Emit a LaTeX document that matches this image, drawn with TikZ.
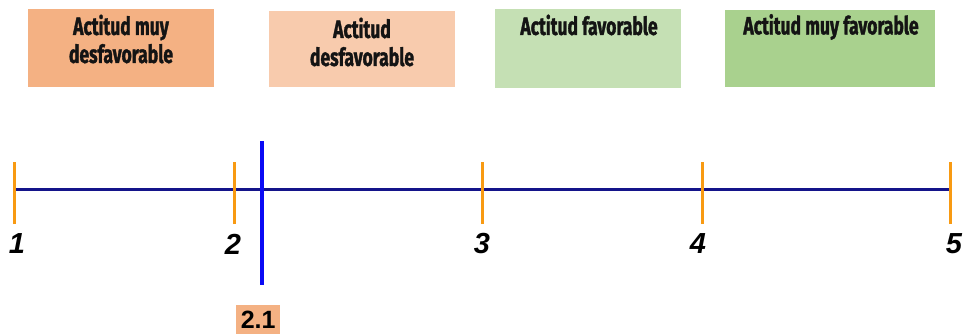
\documentclass[tikz,border=0pt]{standalone}
\usepackage{fontspec}
\setmainfont{Liberation Sans}
\newfontfamily\condfont[FakeStretch=0.70,FakeBold=1.3]{Fira Sans Bold}
\definecolor{boxA}{HTML}{F4B183}
\definecolor{boxB}{HTML}{F8CBAD}
\definecolor{boxC}{HTML}{C5E0B4}
\definecolor{boxD}{HTML}{A9D18E}
\definecolor{axisblue}{HTML}{14148A}
\definecolor{tickor}{HTML}{F89A12}
\definecolor{markblue}{HTML}{0A0AF5}
\begin{document}
\begin{tikzpicture}[x=1pt,y=-1pt,
  catbox/.style={draw=none,inner sep=0pt,anchor=north west},
  cattext/.style={font=\condfont\fontsize{25}{28}\selectfont,align=center,inner sep=0pt,text=black!92},
  tickline/.style={draw=tickor,line width=3pt},
  numlab/.style={font=\bfseries\itshape\fontsize{29}{29}\selectfont,inner sep=0pt},
]
\useasboundingbox (0,0) rectangle (965,333);
% category boxes
\node[catbox,fill=boxA,minimum width=186pt,minimum height=78pt] (b1) at (28,9) {};
\node[catbox,fill=boxB,minimum width=186pt,minimum height=76pt] (b2) at (269,11) {};
\node[catbox,fill=boxC,minimum width=186pt,minimum height=79pt] (b3) at (495,9) {};
\node[catbox,fill=boxD,minimum width=210pt,minimum height=77pt] (b4) at (725,10) {};
\node[cattext] (t1) at (121,39) {Actitud muy\\desfavorable};
\node[cattext] (t2) at (362,42) {Actitud\\desfavorable};
\node[cattext] (t3) at (589,25) {Actitud favorable};
\node[cattext] (t4) at (831,27) {Actitud muy favorable};
% axis
\coordinate (a1) at (14,189);
\coordinate (a2) at (234,189);
\coordinate (a3) at (482,189);
\coordinate (a4) at (702,189);
\coordinate (a5) at (950,189);
\draw[axisblue,line width=3pt] (a1) -- (a5);
\foreach \i in {1,...,5}{
  \draw[tickline] ([yshift=-35pt]a\i) -- ([yshift=27pt]a\i);
}
% marker
\coordinate (m1) at (262,141);
\coordinate (m2) at (262,285);
\draw[markblue,line width=3.6pt] (m1) -- (m2);
% labels
\node[numlab] (n1) at (17,244) {1};
\node[numlab] (n2) at (233,244) {2};
\node[numlab] (n3) at (482,244) {3};
\node[numlab] (n4) at (698,244) {4};
\node[numlab] (n5) at (954,244) {5};
\node[fill=boxA,font=\bfseries\fontsize{25}{25}\selectfont,inner sep=0pt,minimum width=44pt,minimum height=30pt,anchor=north west] (v) at (236,305) {2.1};
\end{tikzpicture}
\end{document}
